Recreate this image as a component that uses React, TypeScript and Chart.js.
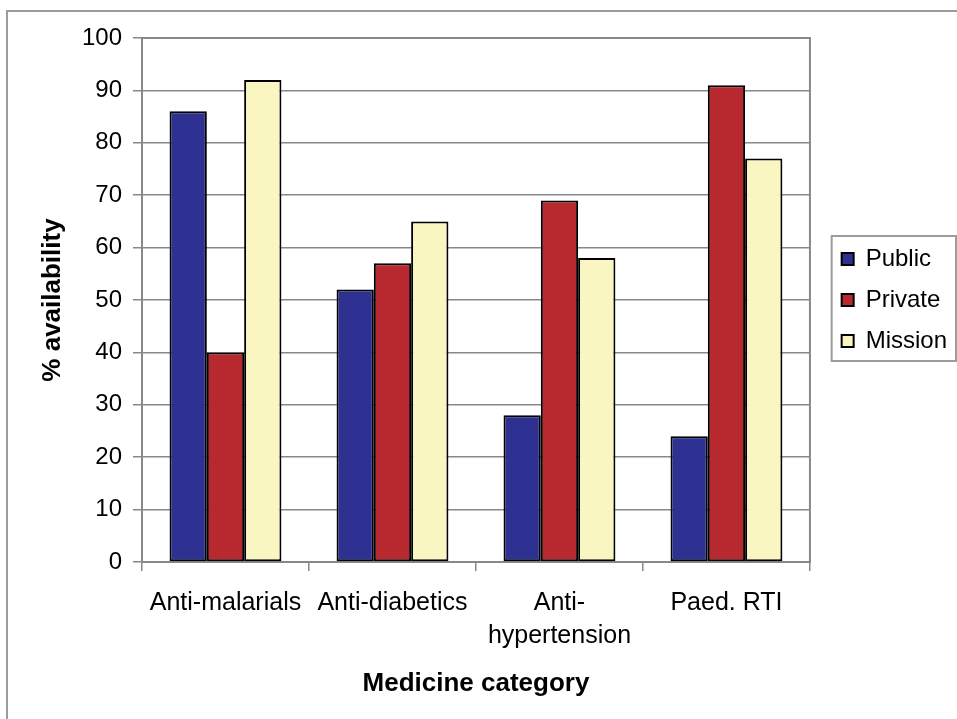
import React, { useEffect, useRef } from 'react';
import { Chart, registerables } from 'chart.js';

Chart.register(...registerables);

const categories: (string | string[])[] = ['Anti-malarials', 'Anti-diabetics', ['Anti-', 'hypertension'], 'Paed. RTI'];
const seriesNames = ['Public', 'Private', 'Mission'];
const publicValues = [86, 52, 28, 24];
const privateValues = [40, 57, 69, 91];
const missionValues = [92, 65, 58, 77];
const seriesColors = ['#2f3192', '#b8282f', '#f9f6c1'];
const yTitle = '% availability';
const xTitle = 'Medicine category';
const yMin = 0;
const yMax = 100;
const yStep = 10;

const FONT = "'Liberation Sans', Arial, Helvetica, sans-serif";

const framePlugin = {
  id: 'frame',
  beforeDraw(chart: any) {
    const { ctx } = chart;
    ctx.save();
    ctx.fillStyle = '#ffffff';
    ctx.fillRect(0, 0, chart.width, chart.height);
    ctx.strokeStyle = '#9c9c9c';
    ctx.lineWidth = 2;
    ctx.beginPath();
    ctx.moveTo(7, chart.height + 5);
    ctx.lineTo(7, 11);
    ctx.lineTo(chart.width + 5, 11);
    ctx.stroke();
    ctx.restore();
  },
  beforeDatasetsDraw(chart: any) {
    const { ctx, chartArea: a } = chart;
    ctx.save();
    ctx.strokeStyle = '#888888';
    ctx.lineWidth = 2;
    ctx.strokeRect(a.left, a.top, a.right - a.left, a.bottom - a.top);
    ctx.restore();
  },
  afterDraw(chart: any) {
    const { ctx, legend } = chart;
    if (!legend || !legend.legendHitBoxes || !legend.legendHitBoxes.length) return;
    const hb = legend.legendHitBoxes;
    const last = hb[hb.length - 1];
    const top = hb[0].top - 11;
    const bottom = last.top + last.height + 8;
    const left = legend.left + 7;
    const right = chart.width - 1;
    ctx.save();
    ctx.strokeStyle = '#9c9c9c';
    ctx.lineWidth = 2;
    ctx.strokeRect(left, top, right - left, bottom - top);
    ctx.restore();
  },
};

export default function App() {
  const canvasRef = useRef<HTMLCanvasElement | null>(null);

  useEffect(() => {
    if (!canvasRef.current) return;
    Chart.defaults.font.family = FONT;
    Chart.defaults.color = '#000000';
    const values = [publicValues, privateValues, missionValues];
    const chart = new Chart(canvasRef.current, {
      type: 'bar',
      data: {
        labels: categories as any,
        datasets: seriesNames.map((name, i) => ({
          label: name,
          data: values[i],
          backgroundColor: seriesColors[i],
          borderColor: '#000000',
          borderWidth: 2,
          borderSkipped: false,
          categoryPercentage: 0.67,
          barPercentage: 1.0,
          yAxisID: 'y',
        })),
      },
      options: {
        responsive: false,
        animation: false,
        devicePixelRatio: 1,
        layout: { padding: { left: 0, right: 0, top: 38, bottom: 0 } },
        plugins: {
          legend: {
            position: 'right',
            fullSize: false,
            labels: {
              boxWidth: 12,
              boxHeight: 12,
              padding: 17,
              color: '#000000',
              font: { size: 24, family: FONT },
            },
          },
          tooltip: { enabled: false },
        },
        scales: {
          x: {
            grid: {
              display: true,
              drawOnChartArea: false,
              drawTicks: true,
              tickLength: 9,
              color: '#888888',
              lineWidth: 1.5,
              offset: true,
            },
            border: { display: true, color: '#888888', width: 2 },
            ticks: {
              color: '#000000',
              font: { size: 25, family: FONT, lineHeight: 1.3 },
              padding: 16,
              maxRotation: 0,
              autoSkip: false,
            },
            title: {
              display: true,
              text: xTitle,
              color: '#000000',
              font: { size: 26, weight: 'bold', family: FONT },
              padding: { top: 0, bottom: 20 },
            },
            afterFit: (s: any) => {
              s.height = 157;
            },
          },
          y: {
            min: yMin,
            max: yMax,
            ticks: {
              stepSize: yStep,
              color: '#000000',
              font: { size: 24, family: FONT },
              padding: 11,
            },
            grid: { color: '#888888', lineWidth: 1.5, tickLength: 9 },
            border: { display: true, color: '#888888', width: 2 },
            title: {
              display: true,
              text: yTitle,
              color: '#000000',
              font: { size: 26, weight: 'bold', family: FONT },
              padding: { top: 37, bottom: 0 },
            },
            afterFit: (s: any) => {
              s.width = 142;
            },
          },
          gap: {
            type: 'linear',
            position: 'right',
            display: true,
            grid: { display: false },
            ticks: { display: false },
            border: { display: false },
            afterFit: (s: any) => {
              s.width = 14.7;
            },
          },
        },
      } as any,
      plugins: [framePlugin],
    });
    return () => chart.destroy();
  }, []);

  return (
    <div style={{ position: 'absolute', left: 0, top: 0, width: 957, height: 719, background: '#fff' }}>
      <canvas ref={canvasRef} width={957} height={719} style={{ display: 'block', width: 957, height: 719 }} />
    </div>
  );
}
